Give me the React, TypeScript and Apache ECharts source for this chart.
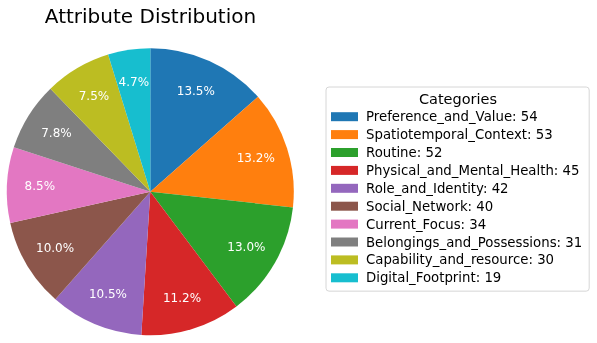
import React, { useEffect, useRef } from "react";
import * as echarts from "echarts";

const categories = [
  "Preference_and_Value",
  "Spatiotemporal_Context",
  "Routine",
  "Physical_and_Mental_Health",
  "Role_and_Identity",
  "Social_Network",
  "Current_Focus",
  "Belongings_and_Possessions",
  "Capability_and_resource",
  "Digital_Footprint",
];
const counts = [54, 53, 52, 45, 42, 40, 34, 31, 30, 19];
const palette = [
  "#1f77b4",
  "#ff7f0e",
  "#2ca02c",
  "#d62728",
  "#9467bd",
  "#8c564b",
  "#e377c2",
  "#7f7f7f",
  "#bcbd22",
  "#17becf",
];

const FONT = "'DejaVu Sans', 'Liberation Sans', sans-serif";

// One-decimal formatting with round-half-even on exact ties ("%1.1f").
function fmt1(x: number): string {
  const exact = x.toFixed(20);
  const dot = exact.indexOf(".");
  const tail = exact.slice(dot + 2);
  if (tail[0] === "5" && /^0*$/.test(tail.slice(1))) {
    const down = Math.floor(x * 10);
    const n = down % 2 === 0 ? down : down + 1;
    return (n / 10).toFixed(1);
  }
  return x.toFixed(1);
}

export default function App() {
  const ref = useRef<HTMLDivElement>(null);

  useEffect(() => {
    if (!ref.current) return;
    const chart = echarts.init(ref.current, null, { renderer: "svg" });
    const total = counts.reduce((a, b) => a + b, 0);
    // shares are computed in single precision, then scaled to percent
    const pct = (v: number) => 100 * Math.fround(Math.fround(v) / Math.fround(total));
    const data = categories.map((name, i) => ({
      name,
      value: counts[i],
      itemStyle: { color: palette[i] },
    }));
    const cx = 150.3;
    const cy = 191.7;
    const r = 143.5;

    chart.setOption({
      animation: false,
      color: palette,
      graphic: [
        {
          type: "text",
          x: 150.5,
          y: 16,
          style: {
            text: "Attribute Distribution",
            font: `20px ${FONT}`,
            fill: "#000",
            textAlign: "center",
            textVerticalAlign: "middle",
          },
        },
        {
          type: "text",
          x: 458,
          y: 98.5,
          style: {
            text: "Categories",
            font: `14.5px ${FONT}`,
            fill: "#000",
            textAlign: "center",
            textVerticalAlign: "middle",
          },
          z: 100,
        },
      ],
      legend: {
        orient: "vertical",
        left: 326,
        top: 87,
        data: categories,
        icon: "rect",
        itemWidth: 27,
        itemHeight: 9,
        itemGap: 2,
        padding: [21.75, 7, 5.4, 5],
        borderColor: "#d6d6d6",
        borderWidth: 1,
        borderRadius: 3,
        backgroundColor: "#ffffff",
        selectedMode: false,
        formatter: (name: string) => `${name}: ${counts[categories.indexOf(name)]}`,
        textStyle: {
          fontFamily: FONT,
          fontSize: 13.3,
          lineHeight: 15.9,
          color: "#000",
          padding: [0, 0, 0, 3],
        },
      },
      series: [
        {
          type: "pie",
          center: [cx, cy],
          radius: [0, r],
          startAngle: 90,
          clockwise: true,
          silent: true,
          label: { show: false },
          labelLine: { show: false },
          emphasis: { disabled: true },
          data,
        },
        {
          // label ring: labels sit midway between 0.5r and r
          type: "pie",
          center: [cx, cy],
          radius: [r * 0.5, r],
          startAngle: 90,
          clockwise: true,
          silent: true,
          itemStyle: { color: "rgba(0,0,0,0)" },
          emphasis: { disabled: true },
          labelLine: { show: false },
          label: {
            show: true,
            position: "inside",
            color: "#ffffff",
            fontFamily: FONT,
            fontSize: 12,
            formatter: (p: any) => `${fmt1(pct(p.value))}%`,
          },
          data: categories.map((name, i) => ({ name, value: counts[i] })),
        },
      ],
    });

    return () => chart.dispose();
  }, []);

  return (
    <div
      ref={ref}
      style={{ position: "fixed", left: 0, top: 0, width: 597, height: 343 }}
    />
  );
}
